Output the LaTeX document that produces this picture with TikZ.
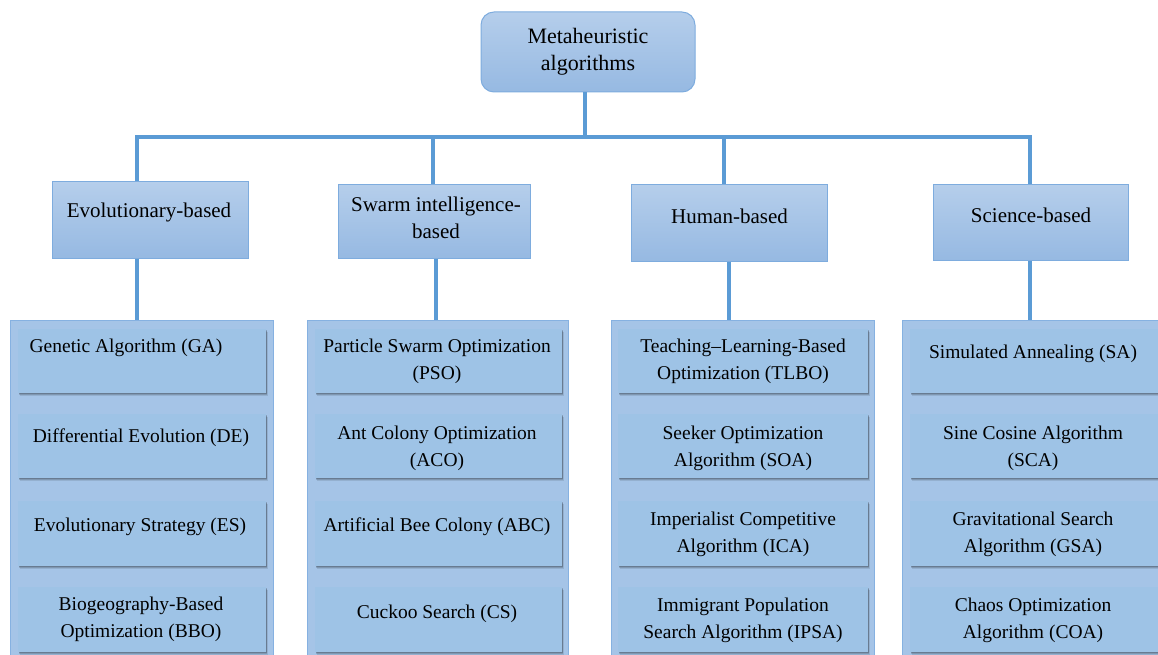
\documentclass[tikz,border=0pt]{standalone}
\usepackage{fontspec}
\setmainfont{LiberationSerif}[Extension=.ttf, UprightFont=*-Regular, BoldFont=*-Bold]
\usetikzlibrary{shadows}

\definecolor{linkblue}{HTML}{5B9BD5}
\definecolor{boxtop}{HTML}{B5CEEB}
\definecolor{boxbot}{HTML}{96B9E2}
\definecolor{boxedge}{HTML}{7EACDE}
\definecolor{panelfill}{HTML}{A5C4E7}
\definecolor{paneledge}{HTML}{86B1E1}
\definecolor{itemfill}{HTML}{9EC3E6}

\tikzset{
  headbox/.style={draw=boxedge, line width=1pt, top color=boxtop, bottom color=boxbot,
    minimum width=214pt, minimum height=80pt, rounded corners=13pt, align=center,
    inner sep=0pt, font=\fontsize{22}{27}\selectfont},
  catbox/.style={draw=boxedge, line width=1pt, top color=boxtop, bottom color=boxbot, inner sep=0pt},
  cattext/.style={align=center, inner sep=0pt, font=\fontsize{21}{27}\selectfont},
  panel/.style={draw=paneledge, line width=1pt, fill=panelfill, inner sep=0pt},
  itembox/.style={fill=itemfill, inner sep=0pt,
    general shadow={shadow xshift=1.8pt, shadow yshift=-3pt, fill=black, opacity=0.10},
    general shadow={shadow xshift=1.2pt, shadow yshift=-2.2pt, fill=black, opacity=0.14},
    general shadow={shadow xshift=0.6pt, shadow yshift=-1.3pt, fill=black, opacity=0.18}},
  itemtext/.style={align=center, inner sep=0pt, font=\fontsize{19.5}{27}\selectfont},
  link/.style={draw=linkblue, line width=4.5pt},
}

\begin{document}
\begin{tikzpicture}[x=1pt, y=-1pt]
\useasboundingbox (0,0) rectangle (1158,655);

% ---- column panels ----
\node[panel, minimum width=263pt, minimum height=350pt] (p1) at (141.5,495) {};
\node[panel, minimum width=261pt, minimum height=350pt] (p2) at (437.5,495) {};
\node[panel, minimum width=263pt, minimum height=350pt] (p3) at (742.5,495) {};
\node[panel, minimum width=268pt, minimum height=350pt] (p4) at (1036,495) {};

% ---- item boxes ----
\foreach \col/\cx/\w in {evo/142/248, swa/438.5/247, hum/743/250, sci/1037.5/255}{
  \node[itembox, minimum width=\w pt, minimum height=64pt] (\col1) at (\cx,361) {};
  \node[itembox, minimum width=\w pt, minimum height=64pt] (\col2) at (\cx,446) {};
  \node[itembox, minimum width=\w pt, minimum height=65pt] (\col3) at (\cx,533.5) {};
  \node[itembox, minimum width=\w pt, minimum height=65pt] (\col4) at (\cx,619.5) {};
}

% ---- item labels ----
\node[itemtext] (evo1t) at (126,348)   {Genetic Algorithm (GA)};
\node[itemtext] (evo2t) at (141,438)   {Differential Evolution (DE)};
\node[itemtext] (evo3t) at (140,527)   {Evolutionary Strategy (ES)};
\node[itemtext] (evo4t) at (141,619)   {Biogeography-Based\\Optimization (BBO)};

\node[itemtext] (swa1t) at (437,361.5) {Particle Swarm Optimization\\(PSO)};
\node[itemtext] (swa2t) at (437,448)   {Ant Colony Optimization\\(ACO)};
\node[itemtext] (swa3t) at (437,527)   {Artificial Bee Colony (ABC)};
\node[itemtext] (swa4t) at (437,614)   {Cuckoo Search (CS)};

\node[itemtext] (hum1t) at (743,361.5) {Teaching–Learning-Based\\Optimization (TLBO)};
\node[itemtext] (hum2t) at (743,448.5) {Seeker Optimization\\Algorithm (SOA)};
\node[itemtext] (hum3t) at (743,534.5) {Imperialist Competitive\\Algorithm (ICA)};
\node[itemtext] (hum4t) at (743,620)   {Immigrant Population\\Search Algorithm (IPSA)};

\node[itemtext] (sci1t) at (1033,354)  {Simulated Annealing (SA)};
\node[itemtext] (sci2t) at (1033,448.5){Sine Cosine Algorithm\\(SCA)};
\node[itemtext] (sci3t) at (1033,534.5){Gravitational Search\\Algorithm (GSA)};
\node[itemtext] (sci4t) at (1033,620)  {Chaos Optimization\\Algorithm (COA)};

% ---- root and category boxes ----
\node[headbox] (root) at (588,52) {Metaheuristic\\algorithms};

\node[catbox, minimum width=196pt, minimum height=76pt] (cat1) at (150,220) {};
\node[catbox, minimum width=192pt, minimum height=73pt] (cat2) at (434,221.5) {};
\node[catbox, minimum width=196pt, minimum height=76pt] (cat3) at (729,223) {};
\node[catbox, minimum width=195pt, minimum height=75pt] (cat4) at (1030.5,222.5) {};

\node[cattext] (cat1t) at (149,212)   {Evolutionary-based};
\node[cattext] (cat2t) at (436,217.5) {Swarm intelligence-\\based};
\node[cattext] (cat3t) at (729.5,216) {Human-based};
\node[cattext] (cat4t) at (1031,215)  {Science-based};

% ---- connectors ----
\coordinate (t0) at (585,137);
\coordinate (j1) at (137,137);
\coordinate (j2) at (433,137);
\coordinate (j3) at (724,137);
\coordinate (j4) at (1030,137);
\coordinate (k1) at (137,300);
\coordinate (k2) at (436,300);
\coordinate (k3) at (729,300);
\coordinate (k4) at (1030,300);

\draw[link] (t0 |- root.south) -- (t0);
\draw[link] (j1 |- cat1.north) -- (j1) -- (j4) -- (j4 |- cat4.north);
\draw[link] (j2) -- (j2 |- cat2.north);
\draw[link] (j3) -- (j3 |- cat3.north);

\draw[link] (k1 |- cat1.south) -- (k1 |- p1.north);
\draw[link] (k2 |- cat2.south) -- (k2 |- p2.north);
\draw[link] (k3 |- cat3.south) -- (k3 |- p3.north);
\draw[link] (k4 |- cat4.south) -- (k4 |- p4.north);
\end{tikzpicture}
\end{document}
